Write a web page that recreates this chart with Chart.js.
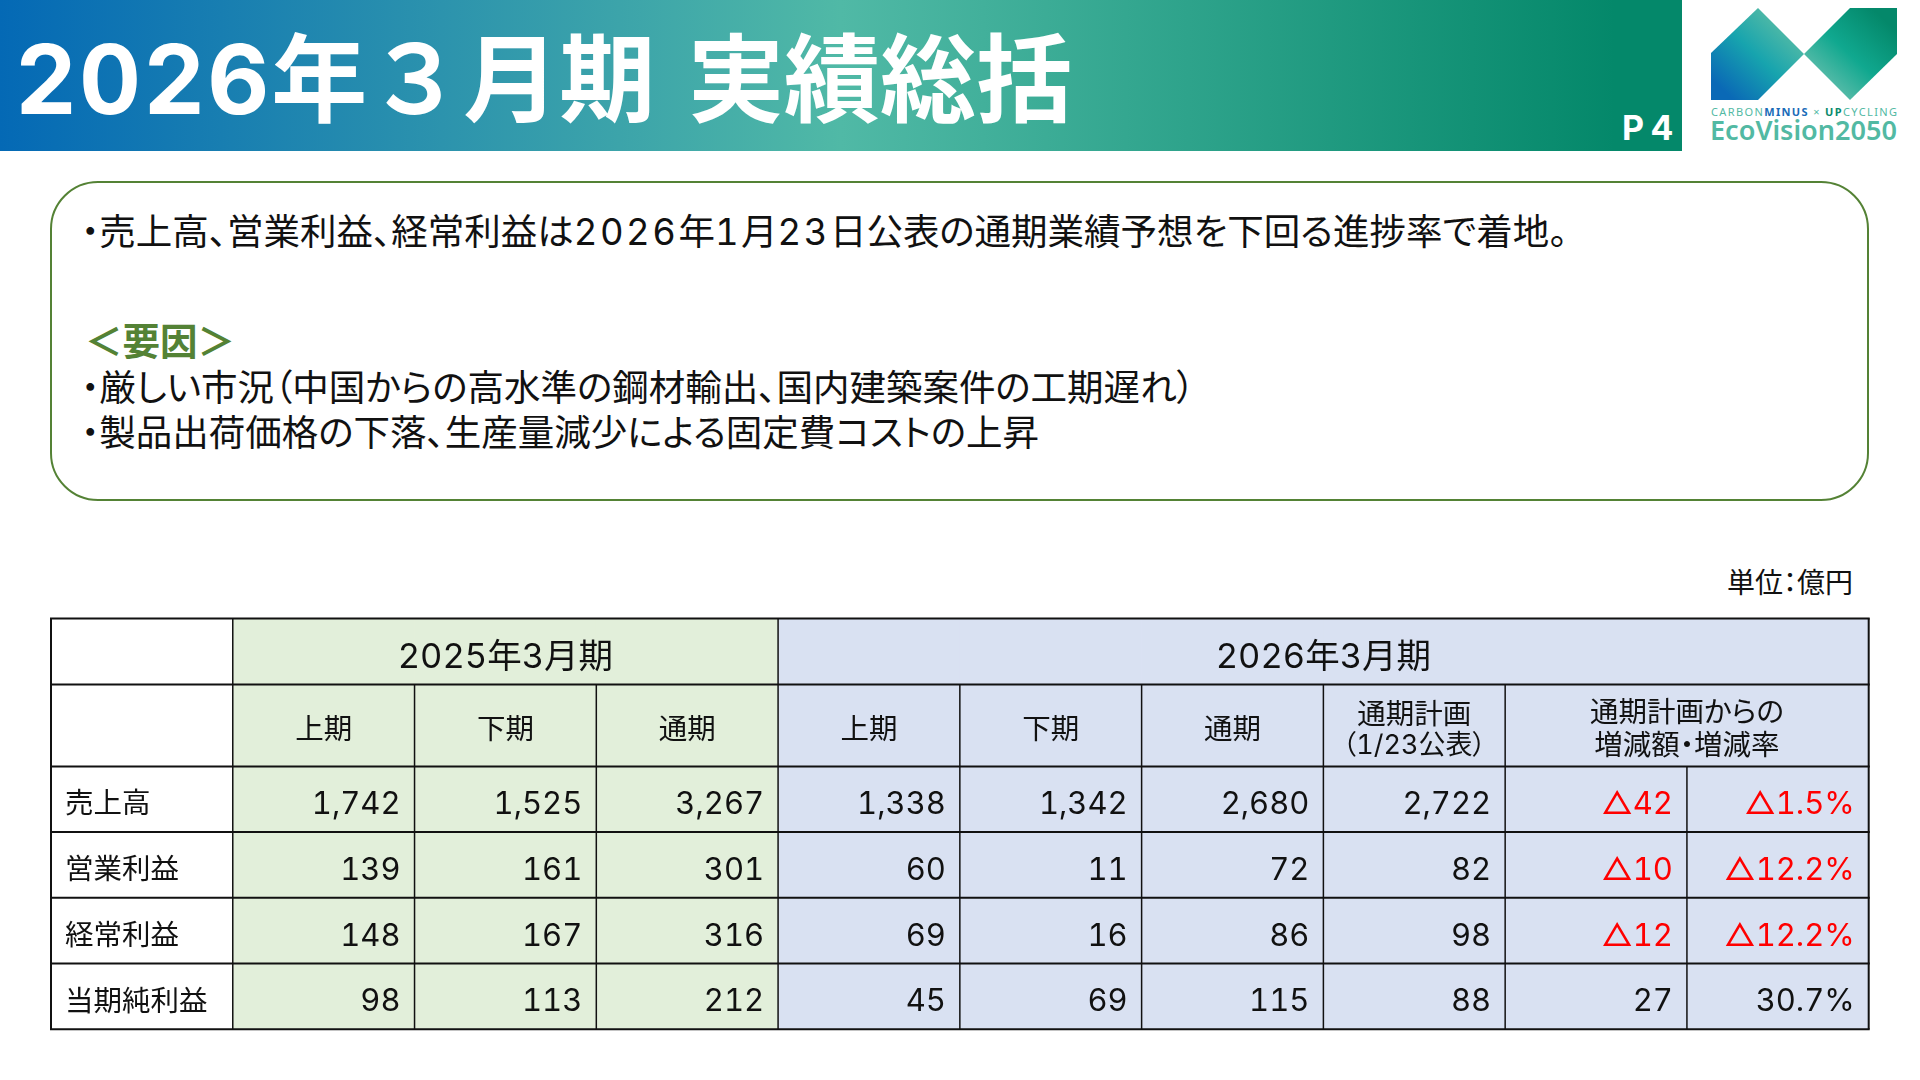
<!DOCTYPE html>
<html lang="ja">
<head>
<meta charset="utf-8">
<title>2026年3月期 実績総括</title>
<script src="https://cdn.jsdelivr.net/npm/chart.js@4"></script>
<style>
  html, body { margin: 0; padding: 0; background: #fff; }
  body { width: 1920px; height: 1080px; position: relative; overflow: hidden;
         font-family: Inter, "Noto Sans CJK JP", sans-serif; color: #111; font-feature-settings: "palt", "tnum"; }
  #banda { position: absolute; left: 0; top: 0; width: 1682px; height: 151px;
           background: linear-gradient(90deg, #0469b5 0%, #50b9a6 50%, #04886a 96%); }
  #titulo { position: absolute; left: 15px; top: 21px; font-size: 96px; line-height: 116px; font-weight: 700; color: #fff; white-space: pre; font-feature-settings: "tnum"; word-spacing: 7px; }
  #titulo span { letter-spacing: 2px; }
  #pagina { position: absolute; left: 1622px; top: 108px; font-size: 34px; line-height: 40px; font-weight: 700; color: #fff; letter-spacing: 7px; }
  #logo { position: absolute; left: 1700px; top: 0; }
  #caja { position: absolute; left: 50px; top: 181px; width: 1815px; height: 316px; border: 2px solid #548235; border-radius: 48px; }
  .nota { position: absolute; left: 81px; font-size: 36.5px; line-height: 46px; white-space: pre; }
  .nota span { letter-spacing: 2.5px; }
  #unidad { position: absolute; left: 1727px; top: 565px; font-size: 28px; line-height: 36px; white-space: pre; }
  #tabla { position: absolute; left: 0; top: 0; }
</style>
</head>
<body>
<div id="banda"></div>
<div id="titulo"><span>2026</span>年３月期 実績総括</div>
<div id="pagina">P4</div>
<svg id="logo" width="220" height="151" viewBox="1700 0 220 151">
  <defs>
    <linearGradient id="gradIzq" gradientUnits="userSpaceOnUse" x1="1725" y1="92" x2="1785" y2="28">
      <stop offset="0" stop-color="#0a69b6"/><stop offset="0.55" stop-color="#17a4ae"/><stop offset="1" stop-color="#50b9a6"/>
    </linearGradient>
    <linearGradient id="gradDer" gradientUnits="userSpaceOnUse" x1="1835" y1="85" x2="1890" y2="25">
      <stop offset="0" stop-color="#50b9a6"/><stop offset="0.4" stop-color="#10a88f"/><stop offset="1" stop-color="#04886a"/>
    </linearGradient>
  </defs>
  <polygon points="1711,53 1758,8 1804,54 1758,100 1711,100" fill="url(#gradIzq)"/>
  <polygon points="1804,54 1850,8 1897,8 1897,54 1850,100" fill="url(#gradDer)"/>
  <text x="1711" y="116" font-family="Noto Sans" font-size="11" textLength="186" lengthAdjust="spacing" fill="#52b9a3">CARBON<tspan font-weight="700" fill="#1a6cb8">MINUS</tspan> × <tspan font-weight="700" fill="#0a8a6c">UP</tspan>CYCLING</text>
  <text x="1710" y="140" font-family="Noto Sans" font-size="27" font-weight="600" textLength="187" lengthAdjust="spacingAndGlyphs" fill="#52b9a3">EcoVision2050</text>
</svg>
<div id="caja"></div>
<div class="nota" style="top:209px">・売上高、営業利益、経常利益は<span>2026</span>年<span>1</span>月<span>23</span>日公表の通期業績予想を下回る進捗率で着地。</div>
<div class="nota" style="top:319px;left:85px;color:#548235;font-weight:700;font-size:37.5px;font-feature-settings:normal">＜要因＞</div>
<div class="nota" style="top:365px">・厳しい市況（中国からの高水準の鋼材輸出、国内建築案件の工期遅れ）</div>
<div class="nota" style="top:410px">・製品出荷価格の下落、生産量減少による固定費コストの上昇</div>
<div id="unidad">単位：億円</div>
<canvas id="tabla" width="1920" height="1080"></canvas>

<script>
// datos de la tabla
const categorias = ['売上高', '営業利益', '経常利益', '当期純利益'];
const periodos = ['2025年3月期', '2026年3月期'];
const columnas = ['', '上期', '下期', '通期', '上期', '下期', '通期', '通期計画', '増減額', '増減率'];

const primerSem2025 = [1742, 139, 148, 98];
const segundoSem2025 = [1525, 161, 167, 113];
const total2025 = [3267, 301, 316, 212];
const primerSem2026 = [1338, 60, 69, 45];
const segundoSem2026 = [1342, 11, 16, 69];
const total2026 = [2680, 72, 86, 115];
const plan2026 = [2722, 82, 98, 88];
const difPlan = [-42, -10, -12, 27];
const tasaPlan = [-1.5, -12.2, -12.2, 30.7];

// alto de cada fila (dos de cabecera y cuatro de datos)
const altoFilas = [66, 82, 65.5, 65.8, 65.8, 65.7];
let bordesFilas = [0];
altoFilas.forEach(alto => bordesFilas.push(bordesFilas[bordesFilas.length - 1] + alto));

const VERDE = '#e2efda';
const AZUL = '#d9e1f2';
const FUENTE = 'Inter, "Noto Sans CJK JP", sans-serif';

function colorColumna(i) {
    if (i === 0) return 'rgba(0,0,0,0)';
    return i <= 3 ? VERDE : AZUL;
}

// una serie por fila: cada barra flotante es una celda
const series = altoFilas.map((alto, fila) => ({
    label: 'fila' + fila,
    data: columnas.map(() => [bordesFilas[fila], bordesFilas[fila + 1]]),
    backgroundColor: columnas.map((c, i) => colorColumna(i)),
    grouped: false,
    barPercentage: 1,
    categoryPercentage: 1,
    borderWidth: 0
}));

function formatoEntero(v) {
    return v < 0 ? '△' + Math.abs(v) : v.toLocaleString('en-US');
}

function formatoTasa(v) {
    return v < 0 ? '△' + Math.abs(v).toFixed(1) + '%' : v.toFixed(1) + '%';
}

const pluginTabla = {
    id: 'pluginTabla',
    afterDatasetsDraw(chart) {
        const ctx = chart.ctx;
        const xs = chart.scales.x;
        const ys = chart.scales.y;
        const ancho = xs.width / columnas.length;
        const bordeX = i => xs.left + ancho * i;
        const centroX = i => xs.getPixelForValue(i);
        const bordeY = i => ys.getPixelForValue(bordesFilas[i]);
        const centroY = i => (bordeY(i) + bordeY(i + 1)) / 2;

        ctx.save();
        ctx.strokeStyle = '#111';

        function linea(x1, y1, x2, y2, grosor) {
            ctx.lineWidth = grosor;
            ctx.beginPath();
            ctx.moveTo(x1, y1);
            ctx.lineTo(x2, y2);
            ctx.stroke();
        }

        // lineas horizontales
        bordesFilas.forEach((b, i) => linea(bordeX(0) - 1, bordeY(i), bordeX(10) + 1, bordeY(i), 2));
        // lineas verticales: las celdas combinadas no llevan linea interior
        [0, 1, 4, 10].forEach(i => linea(bordeX(i), bordeY(0), bordeX(i), bordeY(6), i === 0 || i === 10 ? 2 : 1.5));
        [2, 3, 5, 6, 7, 8].forEach(i => linea(bordeX(i), bordeY(1), bordeX(i), bordeY(6), 1.5));
        linea(bordeX(9), bordeY(2), bordeX(9), bordeY(6), 1.5);

        function texto(t, x, y, tam, alin, color) {
            ctx.font = tam + 'px ' + FUENTE;
            ctx.textAlign = alin;
            ctx.textBaseline = 'middle';
            ctx.fillStyle = color || '#111';
            ctx.fillText(t, x, y);
        }

        // cabeceras
        texto(periodos[0], centroX(2), centroY(0) + 6, 34.5, 'center');
        texto(periodos[1], bordeX(7), centroY(0) + 6, 34.5, 'center');
        for (let i = 1; i <= 6; i++) texto(columnas[i], centroX(i), centroY(1) + 5, 28.5, 'center');
        texto('通期計画', centroX(7), bordeY(1) + 31, 28.5, 'center');
        texto('（1/23公表）', centroX(7), bordeY(1) + 61, 27, 'center');
        texto('通期計画からの', bordeX(9), bordeY(1) + 29, 28.5, 'center');
        texto('増減額・増減率', bordeX(9), bordeY(1) + 62, 28.5, 'center');

        // valores
        const columnasValores = [primerSem2025, segundoSem2025, total2025, primerSem2026, segundoSem2026, total2026, plan2026];
        categorias.forEach((cat, f) => {
            const y = centroY(f + 2) + 5.5;
            texto(cat, bordeX(0) + 14, y, 28.5, 'left');
            columnasValores.forEach((serie, c) => {
                texto(formatoEntero(serie[f]), bordeX(c + 2) - 14, y, 31, 'right');
            });
            texto(formatoEntero(difPlan[f]), bordeX(9) - 14, y, 31, 'right', difPlan[f] < 0 ? '#ff0000' : '#111');
            texto(formatoTasa(tasaPlan[f]), bordeX(10) - 14, y, 31, 'right', tasaPlan[f] < 0 ? '#ff0000' : '#111');
        });
        ctx.restore();
    }
};

new Chart(document.getElementById('tabla'), {
    type: 'bar',
    data: { labels: columnas, datasets: series },
    options: {
        responsive: false,
        animation: false,
        devicePixelRatio: 1,
        layout: { padding: { left: 51, right: 51.3, top: 618.5, bottom: 50.7 } },
        plugins: { legend: { display: false }, tooltip: { enabled: false } },
        scales: {
            x: { display: false },
            y: { display: false, reverse: true, min: 0, max: bordesFilas[bordesFilas.length - 1] }
        }
    },
    plugins: [pluginTabla]
});
</script>
</body>
</html>
